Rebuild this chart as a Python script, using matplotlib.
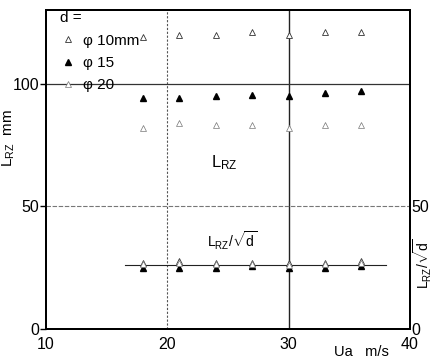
import matplotlib
matplotlib.use("Agg")
import matplotlib.pyplot as plt

plt.rcParams['font.family'] = ['Liberation Sans', 'DejaVu Sans']
plt.rcParams['mathtext.fontset'] = 'custom'
plt.rcParams['mathtext.rm'] = 'Liberation Sans'
plt.rcParams['mathtext.it'] = 'Liberation Sans'

ua = [18, 21, 24, 27, 30, 33, 36]
lrz_d10 = [119, 120, 120, 121, 120, 121, 121]
lrz_d15 = [94, 94, 95, 95.5, 95, 96, 97]
lrz_d20 = [82, 84, 83, 83, 82, 83, 83]
norm_d10 = [27, 27.5, 27, 27, 27, 27, 27.5]
norm_d15 = [25, 25, 25, 25.5, 25, 25, 25.5]
norm_d20 = [26.5, 27, 26.5, 26.5, 26, 26.5, 27]
fit_x = [16.5, 38]
fit_y = [26, 26]
labels = ['φ 10mm', 'φ 15', 'φ 20']

fig = plt.figure(figsize=(4.37, 3.61), dpi=100)
ax = fig.add_axes([0.105, 0.089, 0.833, 0.883])
ax.set_xlim(10, 40)
ax.set_ylim(0, 130)

ax.axvline(20, color='#555555', lw=0.8, ls=(0, (2, 1.5)))
ax.axvline(30, color='#222222', lw=1.0)
ax.axhline(50, color='#777777', lw=0.8, ls=(0, (4, 1.5)))
ax.axhline(100, color='#333333', lw=0.9)

ms = 4.5
kw_open = dict(ls='none', marker='^', mfc='white', mec='#333333', mew=0.6, ms=ms)
kw_fill = dict(ls='none', marker='^', mfc='black', mec='black', ms=ms)
kw_open2 = dict(ls='none', marker='^', mfc='white', mec='#777777', mew=0.5, ms=ms)

ax.plot(fit_x, fit_y, color='#222222', lw=0.8)
h1, = ax.plot(ua, lrz_d10, **kw_open)
h2, = ax.plot(ua, lrz_d15, **kw_fill)
h3, = ax.plot(ua, lrz_d20, **kw_open2)
ax.plot(ua, norm_d10, **kw_open)
ax.plot(ua, norm_d15, **kw_fill)
ax.plot(ua, norm_d20, **kw_open2)

leg = ax.legend([h1, h2, h3], labels, title='d =', loc='upper left',
                bbox_to_anchor=(0.01, 1.03), frameon=False, fontsize=11,
                title_fontsize=11, handlelength=1.0, handletextpad=0.5,
                labelspacing=0.55, borderpad=0.2)
leg._legend_box.align = 'left'

ax.text(23.6, 66, r'L$_{\mathrm{RZ}}$', fontsize=12)
ax.text(23.3, 33, r'L$_{\mathrm{RZ}}$/$\sqrt{d}$', fontsize=10)

ax.set_xticks([10, 20, 30, 40])
ax.set_yticks([0, 50, 100])
ax.tick_params(axis='both', labelsize=11.5, direction='out', length=4, width=1, pad=1)
ax.tick_params(axis='x', length=0, pad=6)

ax2 = ax.twinx()
ax2.set_ylim(0, 130)
ax2.set_yticks([0, 50])
ax2.tick_params(axis='y', labelsize=11.5, direction='in', length=0, pad=1)

for a in (ax, ax2):
    for s in a.spines.values():
        s.set_linewidth(1.4)

ax.set_ylabel(r'L$_{\mathrm{RZ}}$  mm', fontsize=11)
ax.yaxis.set_label_coords(-0.08, 0.6)
fig.text(0.968, 0.27, r'L$_{\mathrm{RZ}}$/$\sqrt{d}$', fontsize=10,
         rotation=90, ha='center', va='center')
fig.text(0.765, 0.014, 'Ua   m/s', fontsize=10.5)

fig.savefig('out.png', dpi=100)
